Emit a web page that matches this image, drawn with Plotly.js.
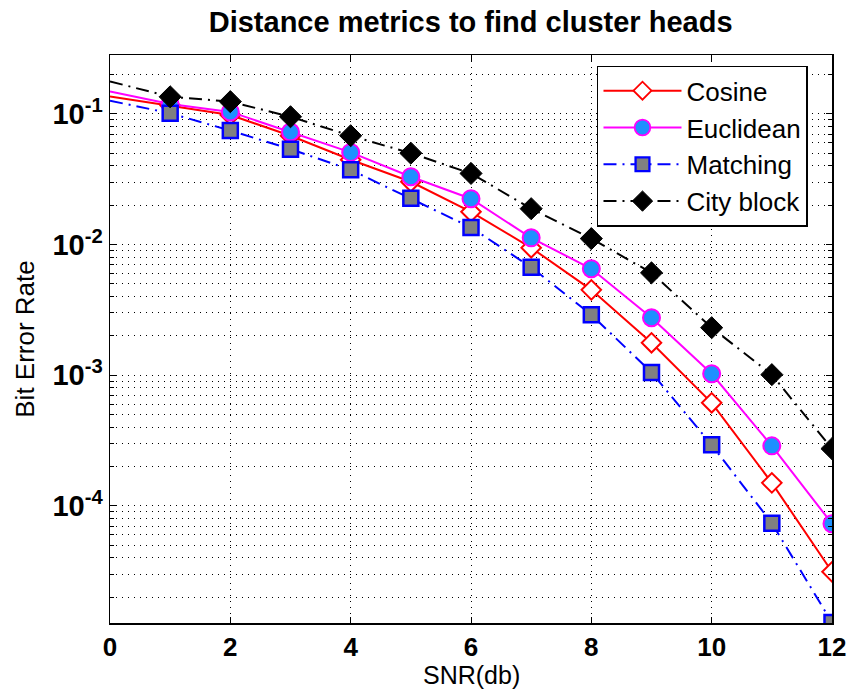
<!DOCTYPE html>
<html><head><meta charset="utf-8">
<script src="https://cdn.plot.ly/plotly-3.0.1.min.js"></script>
<style>html,body{margin:0;padding:0;background:#fff;}</style>
</head><body>
<div id="chart" style="width:848px;height:695px;"></div>
<script>
const snr = [0,1,2,3,4,5,6,7,8,9,10,11,12];
const cosine    = [0.1355,0.116,0.098,0.068,0.0445,0.0302,0.0178,0.00944,0.0045,0.00177,0.000615,0.000150,0.0000313];
const euclidean = [0.148,0.119,0.1035,0.0727,0.0507,0.0330,0.0224,0.01125,0.00652,0.00275,0.001026,0.000288,0.000073];
const matching  = [0.126,0.101,0.0745,0.0537,0.0373,0.0226,0.0135,0.0067,0.0029,0.00105,0.000293,0.0000738,0.0000128];
const cityblock = [0.177,0.135,0.124,0.095,0.068,0.050,0.035,0.0188,0.0111,0.00607,0.00231,0.00101,0.000274];
const names = ['Cosine','Euclidean','Matching','City block'];
const xTicks = [0,2,4,6,8,10,12];
const yTicks = [1e-4,1e-3,1e-2,1e-1];
const yTickText = ['10<sup>-4</sup>','10<sup>-3</sup>','10<sup>-2</sup>','10<sup>-1</sup>'];

const FONT = '"Liberation Sans", Arial, sans-serif';
function sizes(s){ return snr.map((v,i)=> i===0 ? 0 : s); }
function lws(w){ return snr.map((v,i)=> i===0 ? 0 : w); }
const dashdot = '13px,6px,2px,6px';

const traces = [
  {x: snr, y: cosine, name: names[0], mode:'lines+markers',
   line:{color:'#ff0000', width:2},
   marker:{symbol:'diamond', opacity:1, size:sizes(15), color:'#ffffff', line:{color:'#ff0000', width:lws(2)}}},
  {x: snr, y: euclidean, name: names[1], mode:'lines+markers',
   line:{color:'#ff00ff', width:2},
   marker:{symbol:'circle', opacity:1, size:sizes(17), color:'#1e90ff', line:{color:'#ff00ff', width:lws(2)}}},
  {x: snr, y: matching, name: names[2], mode:'lines+markers',
   line:{color:'#0000ff', width:2, dash:dashdot},
   marker:{symbol:'square', opacity:1, size:sizes(15), color:'#808080', line:{color:'#0000ff', width:lws(2.5)}}},
  {x: snr, y: cityblock, name: names[3], mode:'lines+markers',
   line:{color:'#000000', width:2, dash:dashdot},
   marker:{symbol:'diamond', opacity:1, size:sizes(17), color:'#000000', line:{color:'#000000', width:lws(1)}}}
];

const layout = {
  width:848, height:695,
  margin:{l:110, r:16, t:55, b:72},
  paper_bgcolor:'#ffffff', plot_bgcolor:'#ffffff',
  showlegend:true,
  title:{text:'<b>Distance metrics to find cluster heads</b>', x:0.555, xanchor:'center', y:0.968, yanchor:'middle',
         font:{family:FONT, size:29, color:'#000'}},
  xaxis:{range:[0,12], tickvals:xTicks, ticktext:xTicks.map(v=>'<b>'+v+'</b>'),
         ticks:'inside', ticklen:6, tickcolor:'#000', showline:true, linecolor:'#000', linewidth:1.5, mirror:'ticks',
         showgrid:true, gridcolor:'#000', gridwidth:1, griddash:'1px,5px', zeroline:false,
         tickfont:{family:FONT, size:26, color:'#000'}},
  yaxis:{type:'log', range:[Math.log10(1.27e-5), Math.log10(0.282)],
         tickvals:yTicks, ticktext:yTickText.map(t=>'<b>'+t+'</b>'),
         ticks:'inside', ticklen:6, tickcolor:'#000', showline:true, linecolor:'#000', linewidth:1.5, mirror:'ticks',
         showgrid:true, gridcolor:'#000', gridwidth:1, griddash:'1px,5px', zeroline:false,
         minor:{dtick:'D1', ticks:'inside', ticklen:4, tickcolor:'#000', showgrid:true, gridcolor:'#000', gridwidth:1, griddash:'1px,5px'},
         tickfont:{family:FONT, size:29, color:'#000'},
         title:{text:'Bit Error Rate', font:{family:FONT, size:26, color:'#000'}, standoff:10}},
  annotations:[{text:'SNR(db)', xref:'paper', yref:'paper', x:0.5, y:-0.092, xanchor:'center', yanchor:'middle',
                showarrow:false, font:{family:FONT, size:25, color:'#000'}}],
  legend:{x:0.6745, y:0.981, xanchor:'left', yanchor:'top', bgcolor:'#ffffff', bordercolor:'#000', borderwidth:1.5,
          font:{family:FONT, size:26, color:'#000'}, tracegroupgap:0, itemwidth:78}
};

Plotly.newPlot('chart', traces, layout, {displayModeBar:false, staticPlot:true});
</script>
</body></html>
